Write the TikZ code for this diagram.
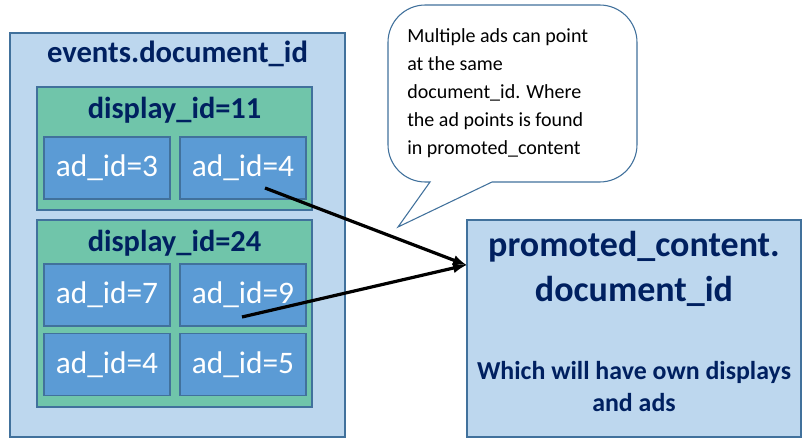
\documentclass[tikz,border=0pt]{standalone}
\usepackage{fontspec}
\setmainfont{Carlito}
\definecolor{paleblue}{HTML}{BDD7EE}
\definecolor{midblue}{HTML}{5B9BD5}
\definecolor{edgeblue}{HTML}{41719C}
\definecolor{teal}{HTML}{70C5AA}
\definecolor{navy}{HTML}{002060}
\begin{document}
\begin{tikzpicture}[x=0.75pt, y=-0.75pt,
	box/.style={draw=edgeblue, line width=0.9pt, inner sep=0pt},
	adbox/.style={box, fill=midblue, minimum width=94.5pt, minimum height=46.5pt,
		text=white, font=\fontsize{23.5}{26}\selectfont},
	title/.style={text=navy, font=\bfseries\fontsize{22.8}{26}\selectfont}]
	\useasboundingbox (0,0) rectangle (811,445);
	% left block
	\node[box, fill=paleblue, minimum width=251.25pt, minimum height=303pt] (events) at (177.5,235) {};
	\node[title, font=\bfseries\fontsize{23}{26}\selectfont] (eventsname) at (177.5,54) {events.document\_id};
	\node[box, fill=teal, minimum width=206.25pt, minimum height=92.25pt] (disp11) at (174.5,148.5) {};
	\node[title] (disp11name) at (174.5,110) {display\_id=11};
	\node[adbox] (ad3) at (107,168) {ad\_id=3};
	\node[adbox] (ad4a) at (243,168) {ad\_id=4};
	\node[box, fill=teal, minimum width=206.25pt, minimum height=140.25pt] (disp24) at (174.5,313.5) {};
	\node[title] (disp24name) at (174.5,243) {display\_id=24};
	\node[adbox] (ad7) at (107,295) {ad\_id=7};
	\node[adbox] (ad9) at (243,295) {ad\_id=9};
	\node[adbox] (ad4b) at (107,364.5) {ad\_id=4};
	\node[adbox] (ad5) at (243,364.5) {ad\_id=5};
	% right block
	\node[box, fill=paleblue, minimum width=250.5pt, minimum height=162.75pt] (promo) at (634,328.5) {};
	\node[title, font=\bfseries\fontsize{27}{30}\selectfont] (promoname) at (634,247) {promoted\_content.};
	\node[title, font=\bfseries\fontsize{27}{30}\selectfont] (promodoc) at (634,291) {document\_id};
	\node[title, font=\bfseries\fontsize{19.4}{24}\selectfont, align=center] (promonote) at (634,387) {Which will have own displays\\and ads};
	% speech bubble
	\draw[edgeblue, line width=0.8pt, fill=white] (492,182) [rounded corners=28pt] -- (637,182) -- (637,5) -- (388,5) -- (388,182) [sharp corners] -- (430,182) -- (398,227) -- cycle;
	\node[anchor=north west, align=left, inner sep=0pt, font=\fontsize{15}{21}\selectfont] (bubble) at (407,28)
		{Multiple ads can point\\at the same\\document\_id. Where\\the ad points is found\\in promoted\_content};
	% pointers
	\draw[line width=2.4pt, -latex] ([shift={(22,20)}]ad4a.center) -- ([yshift=47.6]promo.west);
	\draw[line width=2.4pt, -latex] ([shift={(-1,22)}]ad9.center) -- ([yshift=47.6]promo.west);
\end{tikzpicture}
\end{document}
